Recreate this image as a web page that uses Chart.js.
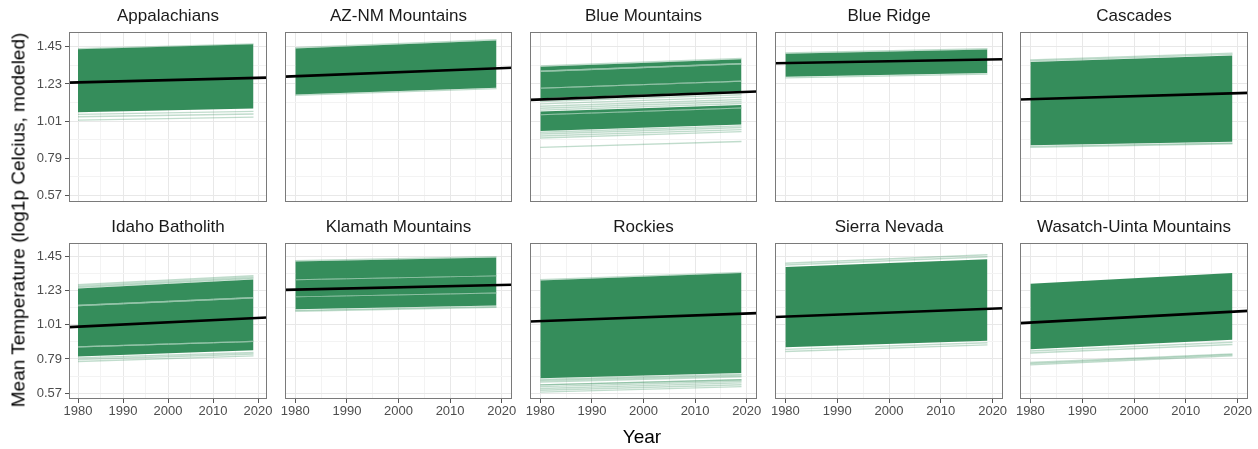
<!DOCTYPE html>
<html>
<head>
<meta charset="utf-8">
<script src="https://cdn.jsdelivr.net/npm/chart.js@4/dist/chart.umd.min.js"></script>
<style>
  html, body { margin: 0; padding: 0; background: #ffffff; }
  #fig { position: relative; width: 1258px; height: 449px; overflow: hidden;
         font-family: "Liberation Sans", Arial, Helvetica, sans-serif; }
  #fig canvas { position: absolute; }
  .strip { position: absolute; font-size: 17px; line-height: 20px; color: #1a1a1a;
           white-space: nowrap; transform: translateX(-50%); }
  .axis-title { position: absolute; font-size: 19px; line-height: 19px; color: #000;
                white-space: nowrap; }
</style>
</head>
<body>
<div id="fig"></div>
<script>
// ---- data ----------------------------------------------------------------
const regions = ['Appalachians', 'AZ-NM Mountains', 'Blue Mountains', 'Blue Ridge', 'Cascades',
                 'Idaho Batholith', 'Klamath Mountains', 'Rockies', 'Sierra Nevada', 'Wasatch-Uinta Mountains'];

const lineYears = [1980, 2019];   // span of each modeled site line
const trendYears = [1978, 2022];  // span of the regional trend line
const trendStart = [1.238, 1.273, 1.136, 1.352, 1.138, 0.995, 1.235, 1.031, 1.060, 1.021];
const trendEnd   = [1.267, 1.326, 1.185, 1.376, 1.177, 1.057, 1.268, 1.085, 1.117, 1.100];

const xTickYears = [1980, 1990, 2000, 2010, 2020];
const yTickValues = [0.57, 0.79, 1.01, 1.23, 1.45];

// dense bundles of site lines: [low 1980, high 1980, low 2019, high 2019]
// sparse single site lines:   [value 1980, value 2019]
const appalachiansBands = [[1.063, 1.435, 1.085, 1.464]];
const appalachiansLines = [[1.050, 1.068], [1.036, 1.052], [1.016, 1.034], [1.438, 1.467]];

const azNmBands = [[1.168, 1.440, 1.207, 1.487]];
const azNmLines = [[1.163, 1.202], [1.444, 1.491]];

const blueMountainsBands = [[1.309, 1.332, 1.353, 1.376], [1.208, 1.301, 1.250, 1.345],
                            [1.146, 1.201, 1.187, 1.243], [1.051, 1.067, 1.091, 1.106],
                            [0.952, 1.045, 0.990, 1.085]];
const blueMountainsLines = [[1.336, 1.380], [1.305, 1.349], [1.305, 1.349], [1.204, 1.247],
                            [1.204, 1.247], [1.138, 1.178], [1.126, 1.166], [1.112, 1.152],
                            [1.098, 1.138], [1.086, 1.126], [1.075, 1.114], [1.048, 1.088],
                            [1.048, 1.088], [0.944, 0.982], [0.934, 0.972], [0.922, 0.960],
                            [0.910, 0.948], [0.855, 0.890]];

const blueRidgeBands = [[1.272, 1.409, 1.295, 1.434]];
const blueRidgeLines = [[1.266, 1.289], [1.413, 1.438]];

const cascadesBands = [[0.868, 1.360, 0.888, 1.398]];
const cascadesLines = [[0.861, 0.881], [0.855, 0.876], [1.366, 1.405], [1.372, 1.412]];

const idahoBands = [[1.139, 1.244, 1.189, 1.302], [0.872, 1.130, 0.908, 1.180],
                    [0.806, 0.864, 0.846, 0.900]];
const idahoLines = [[1.268, 1.326], [1.258, 1.316], [1.250, 1.308], [1.134, 1.184],
                    [1.134, 1.184], [0.868, 0.904], [0.868, 0.904],
                    [0.797, 0.832], [0.786, 0.822], [0.774, 0.810]];

const klamathBands = [[1.303, 1.418, 1.328, 1.443], [1.193, 1.297, 1.218, 1.322],
                      [1.110, 1.187, 1.135, 1.212]];
const klamathLines = [[1.423, 1.448], [1.300, 1.325], [1.300, 1.325], [1.190, 1.215],
                      [1.190, 1.215], [1.103, 1.128], [1.097, 1.122]];

const rockiesBands = [[0.666, 1.295, 0.699, 1.343]];
const rockiesLines = [[1.300, 1.348], [0.658, 0.691], [0.650, 0.683], [0.641, 0.675],
                      [0.623, 0.656], [0.623, 0.656], [0.612, 0.646], [0.600, 0.636],
                      [0.588, 0.624], [0.576, 0.612]];

const sierraBands = [[0.866, 1.382, 0.907, 1.433]];
const sierraLines = [[1.407, 1.461], [1.395, 1.448], [0.852, 0.894], [0.838, 0.881]];

const wasatchBands = [[0.853, 1.274, 0.913, 1.343]];
const wasatchLines = [[0.841, 0.898], [0.828, 0.883], [0.767, 0.823], [0.760, 0.817], [0.752, 0.810]];

const bandsByRegion = [appalachiansBands, azNmBands, blueMountainsBands, blueRidgeBands, cascadesBands,
                       idahoBands, klamathBands, rockiesBands, sierraBands, wasatchBands];
const linesByRegion = [appalachiansLines, azNmLines, blueMountainsLines, blueRidgeLines, cascadesLines,
                       idahoLines, klamathLines, rockiesLines, sierraLines, wasatchLines];

// ---- layout & style -------------------------------------------------------
const panelLeft = [69, 285, 530, 775, 1020];
const panelWidth = [198, 227, 227, 228, 228];
const rowTop = [32, 243];
const rowHeight = [170, 156];
const Y_MIN = 0.532, Y_MAX = 1.537;
const X_MIN = 1978, X_MAX = 2022;

const FONT = '"Liberation Sans", Arial, Helvetica, sans-serif';
const BAND_FILL = 'rgba(46,137,86,0.97)';
const SITE_LINE = 'rgba(46,139,87,0.30)';
const GRID_MAJOR = '#e8e8e8';
const GRID_MINOR = '#f3f3f3';

// grid positions: major breaks plus the minor breaks halfway between them
function withMinors(majors) {
  const out = [];
  majors.forEach((v, k) => {
    out.push(v);
    if (k < majors.length - 1) out.push(+((v + majors[k + 1]) / 2).toFixed(4));
  });
  return out;
}
const xGrid = withMinors(xTickYears);
const yGrid = withMinors(yTickValues);
const isMajorX = v => xTickYears.some(t => Math.abs(t - v) < 1e-6);
const isMajorY = v => yTickValues.some(t => Math.abs(t - v) < 1e-6);

const panelBorder = {
  id: 'panelBorder',
  afterDraw(chart) {
    const { ctx, chartArea: a } = chart;
    ctx.save();
    ctx.strokeStyle = '#7a7a7a';
    ctx.lineWidth = 1;
    ctx.strokeRect(a.left + 0.5, a.top + 0.5, a.right - a.left - 1, a.bottom - a.top - 1);
    ctx.restore();
  }
};

const fig = document.getElementById('fig');

function seg(x0, y0, x1, y1) { return [{ x: x0, y: y0 }, { x: x1, y: y1 }]; }

function makePanel(i) {
  const col = i % 5, row = Math.floor(i / 5);
  const AX = 44, PAD_R = 16, PAD_T = 14;
  const xAxisH = row === 1 ? 26 : 0;
  const padB = row === 1 ? 2 : 14;
  const w = AX + panelWidth[col] + PAD_R;
  const h = PAD_T + rowHeight[row] + xAxisH + padB;

  const canvas = document.createElement('canvas');
  canvas.width = w; canvas.height = h;
  canvas.style.width = w + 'px'; canvas.style.height = h + 'px';
  canvas.style.left = (panelLeft[col] - AX) + 'px';
  canvas.style.top = (rowTop[row] - PAD_T) + 'px';
  fig.appendChild(canvas);

  const strip = document.createElement('div');
  strip.className = 'strip';
  strip.textContent = regions[i];
  strip.style.left = (panelLeft[col] + panelWidth[col] / 2) + 'px';
  strip.style.top = (row === 0 ? 6 : 217) + 'px';
  fig.appendChild(strip);

  const datasets = [];
  datasets.push({
    data: seg(trendYears[0], trendStart[i], trendYears[1], trendEnd[i]),
    borderColor: '#000000', borderWidth: 2.6, pointRadius: 0, fill: false, order: 0
  });
  bandsByRegion[i].forEach(b => {
    datasets.push({
      data: seg(lineYears[0], b[0], lineYears[1], b[2]),
      borderWidth: 0, borderColor: 'rgba(0,0,0,0)', pointRadius: 0, fill: false, order: 2
    });
    datasets.push({
      data: seg(lineYears[0], b[1], lineYears[1], b[3]),
      borderWidth: 0, borderColor: 'rgba(0,0,0,0)', pointRadius: 0,
      fill: '-1', backgroundColor: BAND_FILL, order: 2
    });
  });
  linesByRegion[i].forEach(l => {
    datasets.push({
      data: seg(lineYears[0], l[0], lineYears[1], l[1]),
      borderColor: SITE_LINE, borderWidth: 1.4, pointRadius: 0, fill: false, order: 1
    });
  });

  new Chart(canvas, {
    type: 'line',
    data: { datasets },
    plugins: [panelBorder],
    options: {
      responsive: false,
      animation: false,
      devicePixelRatio: 1,
      events: [],
      layout: { padding: { left: 0, right: PAD_R, top: PAD_T, bottom: padB } },
      plugins: { legend: { display: false }, tooltip: { enabled: false }, title: { display: false } },
      scales: {
        x: {
          type: 'linear', min: X_MIN, max: X_MAX,
          afterBuildTicks: s => { s.ticks = xGrid.map(v => ({ value: v })); },
          afterFit: s => { s.height = xAxisH; },
          border: { display: false },
          grid: {
            color: c => isMajorX(c.tick.value) ? GRID_MAJOR : GRID_MINOR,
            lineWidth: 1,
            drawTicks: row === 1,
            tickLength: 4,
            tickColor: c => isMajorX(c.tick.value) ? '#555555' : 'rgba(0,0,0,0)'
          },
          ticks: {
            display: row === 1, autoSkip: false, maxRotation: 0, minRotation: 0, padding: 1,
            color: '#4d4d4d', font: { family: FONT, size: 13 },
            callback: v => isMajorX(v) ? String(v) : ''
          }
        },
        y: {
          type: 'linear', min: Y_MIN, max: Y_MAX,
          afterBuildTicks: s => { s.ticks = yGrid.map(v => ({ value: v })); },
          afterFit: s => { s.width = AX; },
          border: { display: false },
          grid: {
            color: c => isMajorY(c.tick.value) ? GRID_MAJOR : GRID_MINOR,
            lineWidth: 1,
            drawTicks: col === 0,
            tickLength: 4,
            tickColor: c => isMajorY(c.tick.value) ? '#555555' : 'rgba(0,0,0,0)'
          },
          ticks: {
            display: col === 0, autoSkip: false, padding: 3,
            color: '#4d4d4d', font: { family: FONT, size: 13 },
            callback: v => isMajorY(v) ? v.toFixed(2) : ''
          }
        }
      }
    }
  });
}

regions.forEach((_, i) => makePanel(i));

const yTitle = document.createElement('div');
yTitle.className = 'axis-title';
yTitle.textContent = 'Mean Temperature (log1p Celcius, modeled)';
yTitle.style.left = '18.4px';
yTitle.style.top = '220px';
yTitle.style.transform = 'translate(-50%, -50%) rotate(-90deg)';
fig.appendChild(yTitle);

const xTitle = document.createElement('div');
xTitle.className = 'axis-title';
xTitle.textContent = 'Year';
xTitle.style.left = '642px';
xTitle.style.top = '427px';
xTitle.style.transform = 'translateX(-50%)';
fig.appendChild(xTitle);
</script>
</body>
</html>
